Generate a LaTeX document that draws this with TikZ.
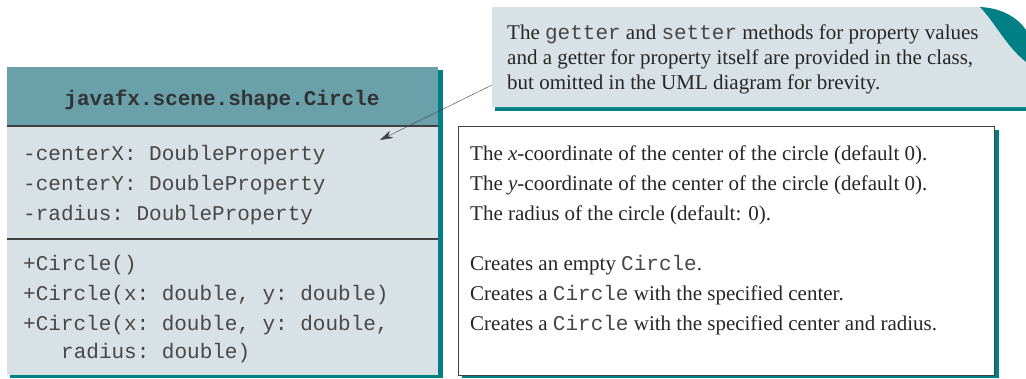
\documentclass[tikz,border=0pt]{standalone}
\usepackage{fontspec}
\setmainfont{Liberation Serif}
\setmonofont{Liberation Mono}
\usetikzlibrary{arrows.meta, positioning}

\definecolor{umlhead}{HTML}{69A0A9}
\definecolor{umlbody}{HTML}{D8E2E6}
\definecolor{umlshadow}{HTML}{007F84}
\definecolor{umlline}{HTML}{404040}

\tikzset{
  membertext/.style={anchor=base west, inner sep=0pt, text=black!72,
    font=\fontsize{21}{25}\selectfont\ttfamily},
  desctext/.style={anchor=base west, inner sep=0pt, text=black!85,
    font=\fontsize{21}{25}\selectfont},
}

\begin{document}
\begin{tikzpicture}[x=1pt, y=-1pt]
  \useasboundingbox (0,0) rectangle (1026,378);

  % Class box with shadow
  \fill[umlshadow] (10,70) rectangle (443,378);
  \fill[umlbody] (7,67) rectangle (438,375);
  \fill[umlhead] (7,67) rectangle (438,126);
  \draw[umlline, line width=1.2pt] (7,126) -- (438,126);
  \draw[umlline, line width=1.2pt] (7,239) -- (438,239);
  \node[anchor=base, inner sep=0pt, text=black!80,
    font=\fontsize{21}{25}\selectfont\ttfamily\bfseries] (classname) at (222,105)
    {javafx.scene.shape.Circle};

  % Data fields
  \node[membertext] (centerx) at (23,160) {-centerX: DoubleProperty};
  \node[membertext] (centery) at (23,190) {-centerY: DoubleProperty};
  \node[membertext] (radius) at (23,220) {-radius: DoubleProperty};

  % Constructors
  \node[membertext] (ctorempty) at (23,270) {+Circle()};
  \node[membertext] (ctorcenter) at (23,300) {+Circle(x: double, y: double)};
  \node[membertext] (ctorfull) at (23,330) {+Circle(x: double, y: double,};
  \node[membertext] (ctorfullb) at (61,358) {radius: double)};

  % Description box
  \fill[umlshadow] (462,130) rectangle (999,378);
  \draw[umlline, fill=white, line width=1pt] (458,126) rectangle (994,375);
  \node[desctext] (desccx) at (470,160) {The \textit{x}-coordinate of the center of the circle (default 0).};
  \node[desctext] (desccy) at (470,190) {The \textit{y}-coordinate of the center of the circle (default 0).};
  \node[desctext] (descr) at (470,220) {The radius of the circle (default: 0).};
  \node[desctext] (descempty) at (470,270) {Creates an empty \texttt{\color{black!72}Circle}.};
  \node[desctext] (desccenter) at (470,300) {Creates a \texttt{\color{black!72}Circle} with the specified center.};
  \node[desctext] (descfull) at (470,330) {Creates a \texttt{\color{black!72}Circle} with the specified center and radius.};

  % Note with curled corner
  \fill[umlshadow] (495,107) rectangle (1026,111);
  \fill[umlbody] (492,7) -- (980,7) .. controls (996,24) and (1006,46) .. (1026,62)
    -- (1026,107) -- (492,107) -- cycle;
  \fill[umlshadow] (980,7) .. controls (1002,8) and (1018,18) .. (1026,30)
    -- (1026,62) .. controls (1006,46) and (996,24) .. (980,7);
  \node[desctext] (notea) at (507,39) {The \texttt{\color{black!72}getter} and \texttt{\color{black!72}setter} methods for property values};
  \node[desctext] (noteb) at (507,64) {and a getter for property itself are provided in the class,};
  \node[desctext] (notec) at (507,89) {but omitted in the UML diagram for brevity.};

  % Note pointer
  \coordinate (notefoot) at (492,85);
  \coordinate (notetip) at (380,140);
  \draw[umlline, -{Stealth[length=13pt, width=8pt]}] (notefoot) -- (notetip);

\end{tikzpicture}
\end{document}
